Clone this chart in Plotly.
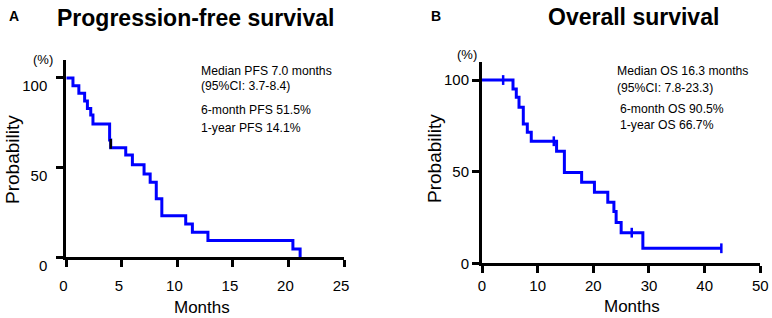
import plotly.graph_objects as go

# ---------------- data ----------------
pfs_months = [0, 0.6, 1.13, 1.65, 1.9, 2.2, 2.4, 3.9, 4.0, 5.35, 5.95, 7.0, 7.55, 8.1, 8.6,
              10.75, 11.35, 12.75, 20.4, 21.05]
pfs_prob = [100, 95.7, 91.4, 87.2, 83.0, 79.3, 74.3, 65.4, 61.1, 57.0, 51.6, 46.5, 41.9, 32.6,
            23.2, 18.6, 14.0, 9.3, 4.6, 0]
pfs_censor_months = [4.0]
pfs_censor_prob = [63.2]

os_months = [0, 5.57, 6.16, 6.65, 7.42, 8.14, 8.85, 13.4, 14.8, 17.9, 20.2, 22.6, 23.7, 24.1,
             25.0, 28.9, 43.0]
os_prob = [100, 95.1, 90.6, 85.1, 76.0, 71.5, 66.6, 61.1, 49.6, 44.2, 38.7, 33.3, 28.2, 22.2,
           16.7, 8.2, 8.2]
os_censor_months = [3.8, 12.9, 26.9, 43.0]
os_censor_prob = [100, 66.6, 16.7, 8.2]

pfs_xticks = [0, 5, 10, 15, 20, 25]
os_xticks = [0, 10, 20, 30, 40, 50]
yticks = [0, 50, 100]

pfs_text = ["Median PFS 7.0 months", "(95%CI: 3.7-8.4)", "6-month PFS 51.5%", "1-year PFS 14.1%"]
os_text = ["Median OS 16.3 months", "(95%CI: 7.8-23.3)", "6-month OS 90.5%", "1-year OS 66.7%"]

# ---------------- layout helpers ----------------
W, H = 772, 318
FONT = "Arial, Liberation Sans, sans-serif"
BLUE = "#0000FF"


def px_x(x):
    return x / W


def px_y(y):
    return 1 - y / H


fig = go.Figure()

fig.add_trace(go.Scatter(x=pfs_months, y=pfs_prob, mode="lines", line=dict(shape="hv", color=BLUE, width=3),
                         xaxis="x", yaxis="y", showlegend=False))
fig.add_trace(go.Scatter(x=pfs_censor_months, y=pfs_censor_prob, mode="markers",
                         marker=dict(symbol="line-ns", size=7, line=dict(color="black", width=2.5)),
                         xaxis="x", yaxis="y", showlegend=False))
fig.add_trace(go.Scatter(x=os_months, y=os_prob, mode="lines", line=dict(shape="hv", color=BLUE, width=3),
                         xaxis="x2", yaxis="y2", showlegend=False))
fig.add_trace(go.Scatter(x=os_censor_months, y=os_censor_prob, mode="markers",
                         marker=dict(symbol="line-ns", size=7, line=dict(color=BLUE, width=2.5)),
                         xaxis="x2", yaxis="y2", showlegend=False, cliponaxis=False))

axis_common = dict(showline=True, linewidth=3, linecolor="black", ticks="outside", ticklen=7,
                   tickwidth=2.5, tickcolor="black", showgrid=False, zeroline=False,
                   automargin=False,
                   tickfont=dict(family=FONT, size=15, color="black"))

fig.update_layout(
    width=W, height=H, margin=dict(l=0, r=0, t=0, b=0, autoexpand=False),
    paper_bgcolor="white", plot_bgcolor="white",
    xaxis=dict(axis_common, domain=[px_x(66.3), px_x(344)], range=[0, 25], tickvals=pfs_xticks,
               anchor="y", ticklabelstandoff=6, ticklabelshift=-3),
    yaxis=dict(axis_common, domain=[px_y(257.3), px_y(60)], range=[0, 110], tickvals=yticks,
               anchor="x", ticklabelstandoff=6, ticklabelshift=8),
    xaxis2=dict(axis_common, domain=[px_x(482), px_x(760.3)], range=[0, 50], tickvals=os_xticks,
                anchor="y2", ticklabelstandoff=0),
    yaxis2=dict(axis_common, domain=[px_y(263.3), px_y(61.7)], range=[0, 110], tickvals=yticks,
                anchor="x2"),
)

ann = []


def add(text, x, y, size, bold=False, xanchor="center", textangle=0):
    ann.append(dict(text=f"<b>{text}</b>" if bold else text, x=px_x(x), y=px_y(y), xref="paper",
                    yref="paper", showarrow=False, xanchor=xanchor, yanchor="middle",
                    textangle=textangle, font=dict(family=FONT, size=size, color="black")))


add("A", 13.7, 16, 14, bold=True)
add("Progression-free survival", 195, 18, 23, bold=True)
add("B", 435.7, 16, 14, bold=True)
add("Overall survival", 633.7, 17, 23, bold=True)

add("(%)", 42.5, 60, 13)
add("(%)", 467.2, 55, 13)

add("Probability", 12, 160, 19, textangle=-90)
add("Probability", 434, 159, 19, textangle=-90)

add("Months", 201.7, 307, 17)
add("Months", 631.7, 306, 17)

for txt, xx, yy in zip(pfs_text, [199, 199, 199, 199], [71, 86, 110, 128]):
    add(txt, xx, yy, 12.2, xanchor="left")
for txt, xx, yy in zip(os_text, [615.3, 615.3, 618.3, 618.3], [71, 88, 108.5, 125]):
    add(txt, xx, yy, 12.2, xanchor="left")

fig.update_layout(annotations=ann)

fig.write_html("out.html", config={"displayModeBar": False},
               post_script="document.body.style.margin='0';document.body.style.overflow='hidden';")
